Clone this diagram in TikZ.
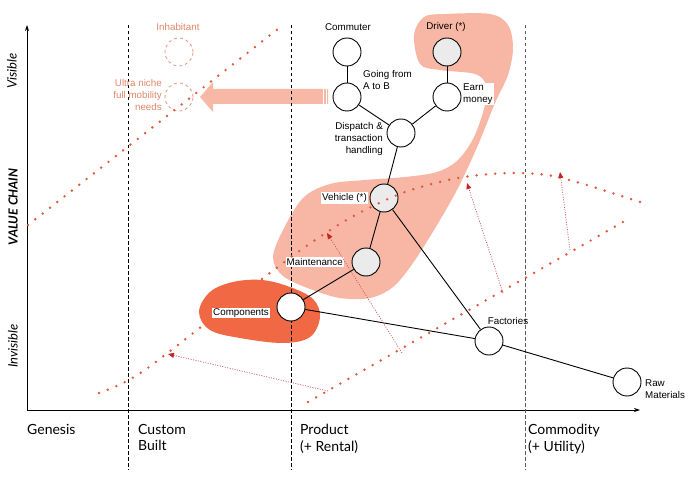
\documentclass[tikz,border=0pt]{standalone}
\usepackage{fontspec}
\setmainfont{Lato}
\newfontfamily\arialf{Liberation Sans}
\usetikzlibrary{arrows.meta}
\definecolor{blobA}{RGB}{247,183,164}
\definecolor{blobB}{RGB}{240,104,68}
\definecolor{dotc}{RGB}{226,86,58}
\definecolor{arrc}{RGB}{205,80,80}
\definecolor{arrhead}{RGB}{200,35,35}
\definecolor{ghost}{RGB}{225,150,130}
\definecolor{ghosttext}{RGB}{226,135,105}
\definecolor{nodegray}{RGB}{235,235,235}
\definecolor{bigarrow}{RGB}{247,185,165}
\begin{document}
\begin{tikzpicture}[x=1pt,y=-1pt,
  vnode/.style={circle,draw=black,line width=0.9pt,minimum size=28pt,inner sep=0pt,fill=white},
  gnode/.style={vnode,fill=nodegray},
  ghostnode/.style={circle,draw=ghost,dashed,line width=0.8pt,minimum size=28pt,inner sep=0pt},
  lbl/.style={font=\arialf\fontsize{9.8}{12}\selectfont,inner sep=1pt},
  wlbl/.style={lbl,fill=white},
  glbl/.style={lbl,text=ghosttext},
  axlbl/.style={font=\fontsize{14}{16.5}\selectfont,align=left,anchor=north west,inner sep=0pt},
  ylbl/.style={font=\itshape\fontsize{13}{15}\selectfont,rotate=90,inner sep=0pt},
  link/.style={line width=0.9pt},
  dots/.style={dotc,line width=2.7pt,line cap=round,dash pattern=on 0pt off 9.3pt},
  evo/.style={arrc,line width=0.7pt,dash pattern=on 1pt off 1.5pt,-{Triangle[length=6pt,width=5pt,color=arrhead]}},
  vline/.style={line width=0.8pt,dash pattern=on 3.5pt off 2.5pt}
]
\path[use as bounding box,fill=white] (0,0) rectangle (700,478);

% background blobs
\fill[blobA] plot[smooth cycle,tension=0.55] coordinates {
 (414,35) (424,17) (445,14) (490,14) (508,25) (513,48) (508,75) (495,103)
 (478,145) (458,188) (437,225) (413,263) (393,287) (370,298) (340,298)
 (310,289) (283,276) (273,258) (282,232) (303,198) (330,184) (365,180)
 (405,177) (437,172) (458,160) (474,137) (485,105) (486,85) (475,74)
 (440,70) (420,64)};
\fill[blobB] plot[smooth cycle,tension=0.6] coordinates {
 (199,312) (210,292) (233,282) (262,280) (290,287) (313,299) (320,317)
 (310,337) (283,343) (240,338) (210,330)};

% big arrow
\fill[bigarrow] (328,89) -- (213,89) -- (213,82) -- (200,97) -- (213,112) -- (213,104) -- (328,104) -- cycle;
\draw[white,line width=0.8pt] (323,88) -- (323,105);
\draw[white,line width=0.8pt] (326,88) -- (326,105);

% axes
\coordinate (origin) at (27,410);
\coordinate (ytop) at (27,25);
\coordinate (xend) at (640,410);
\draw[line width=0.9pt,-{Stealth[length=6pt,width=4pt]}] (origin) -- (ytop);
\draw[line width=0.9pt,-{Stealth[length=6pt,width=4pt]}] (origin) -- (xend);

% dashed stage lines
\coordinate (v1t) at (128,25); \coordinate (v1b) at (128,470);
\coordinate (v2t) at (291,25); \coordinate (v2b) at (291,470);
\coordinate (v3t) at (525,25); \coordinate (v3b) at (525,470);
\draw[vline] (v1t) -- (v1b);
\draw[vline] (v2t) -- (v2b);
\draw[vline,black!65] (v3t) -- (v3b);

% stage labels
\node[axlbl] (gen) at (27,424) {Genesis};
\node[axlbl] (cus) at (138,424) {Custom\\Built};
\node[axlbl] (pro) at (300,424) {Product\\(+ Rental)};
\node[axlbl] (com) at (528,424) {Commodity\\(+ Utility)};

% y labels
\node[ylbl] (vis) at (12,71) {Visible};
\node[ylbl,font=\bfseries\itshape\fontsize{12.5}{14}\selectfont] (vc) at (13,207) {VALUE CHAIN};
\node[ylbl] (invis) at (13,346) {Invisible};

% ghost nodes
\node[ghostnode] (inhab) at (179,52) {};
\node[ghostnode] (ultra) at (179,97) {};
\node[glbl] at (178,27) {Inhabitant};
\node[glbl,align=right,anchor=east] at (163,95) {Ultra niche\\full mobility\\needs};

% value chain nodes
\node[vnode] (commuter) at (347,52) {};
\node[vnode] (goab) at (347,97) {};
\node[gnode] (driver) at (447,52) {};
\node[vnode] (earn) at (447,97) {};
\node[vnode] (dispatch) at (401,133) {};
\node[gnode] (vehicle) at (384,198) {};
\node[gnode] (maint) at (366,262) {};
\node[vnode] (comp) at (291,307) {};
\node[vnode] (fact) at (489,341) {};
\node[vnode] (raw) at (627,382) {};

\begin{scope}[link]
\draw (commuter) -- (goab);
\draw (goab) -- (dispatch);
\draw (driver) -- (earn);
\draw (earn) -- (dispatch);
\draw (dispatch) -- (vehicle);
\draw (vehicle) -- (maint);
\draw (vehicle) -- (fact);
\draw (maint) -- (comp);
\draw (comp) -- (fact);
\draw (fact) -- (raw);
\end{scope}

% labels
\node[lbl] at (348,27) {Commuter};
\node[lbl] at (446,27) {Driver (*)};
\node[lbl,align=left,anchor=west] at (362,80) {Going from\\A to B};
\node[wlbl,align=left,anchor=west] at (462,94) {Earn\\money};
\node[lbl,align=right,anchor=east] at (384,139) {Dispatch \&\\transaction\\handling};
\node[wlbl,anchor=east] at (368,198) {Vehicle (*)};
\node[wlbl,anchor=east] at (344,262) {Maintenance};
\node[wlbl,anchor=east] at (270,313) {Components};
\node[lbl] at (508,321) {Factories};
\node[lbl,align=left,anchor=west] at (644,389) {Raw\\Materials};

% evolution dotted curves
\draw[dots] (28,225) -- (283,25);
\draw[dots] plot[smooth,tension=0.6] coordinates {(99,393) (119,385) (139,374) (157,361) (174,348) (192,334) (201,327)};
\draw[dots] plot[smooth,tension=0.6] coordinates {(262,279) (298,252) (335,227) (365,210) (405,192) (448,180) (480,175) (513,173) (547,175) (580,183) (612,193) (643,203)};
\draw[dots] (308,402) -- (630,218);

% evolution arrows
\coordinate (e1s) at (328,391); \coordinate (e1t) at (168,354);
\coordinate (e2s) at (402,353); \coordinate (e2t) at (327,233);
\coordinate (e3s) at (503,293); \coordinate (e3t) at (467,183);
\coordinate (e4s) at (570,250); \coordinate (e4t) at (560,172);
\draw[evo] (e1s) -- (e1t);
\draw[evo] (e2s) -- (e2t);
\draw[evo] (e3s) -- (e3t);
\draw[evo] (e4s) -- (e4t);
\end{tikzpicture}
\end{document}
